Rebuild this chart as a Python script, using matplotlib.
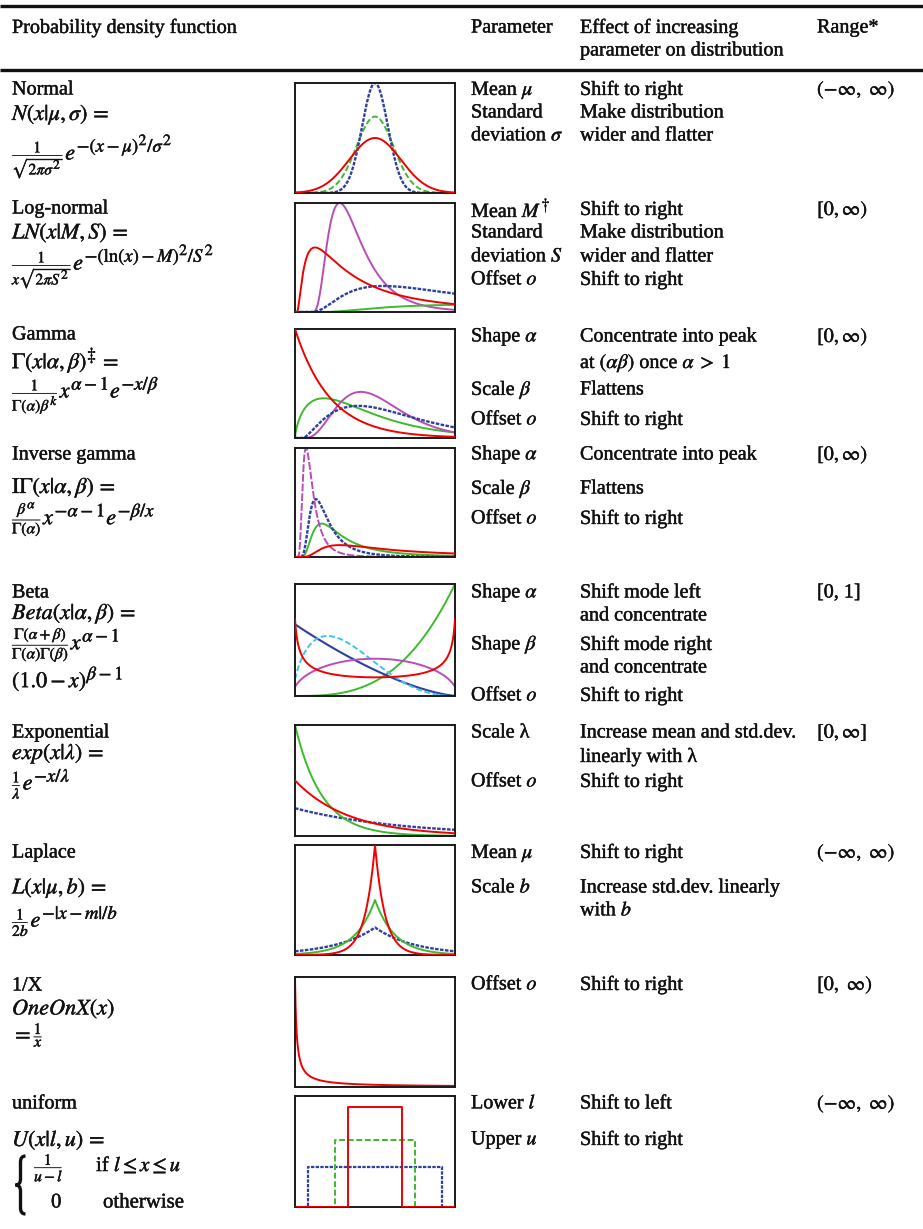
import math
import numpy as np
import matplotlib
matplotlib.use("Agg")
import matplotlib.pyplot as plt
import matplotlib._mathtext as _mt
from matplotlib.path import Path
from matplotlib.patches import PathPatch
import matplotlib.patheffects as pe

_mt.SHRINK_FACTOR = 0.84

plt.rcParams['font.family'] = ['Liberation Serif', 'DejaVu Serif']
plt.rcParams['mathtext.fontset'] = 'stix'

W, H = 923, 1229
FS = 14.5
MFS = 16

RED = '#f00000'
GREEN = '#3dba2e'
BLUE = '#2f3f9f'
MAGENTA = '#b84db8'
CYAN = '#3ec6e6'
DOT = (0, (1.5, 0.6))
DASH = (0, (3.0, 1.4))

# ---------------- data (distribution parameters shown in each panel) -------------
NORMAL_MU = [0.0, 0.0, 0.0]
NORMAL_SIGMA = [1.0, 0.72, 0.5]
NORMAL_COLORS = [RED, GREEN, BLUE]

LOGN_M = [1.24, 0.95, 2.19, 3.4]
LOGN_S = [1.05, 0.56, 0.8, 1.0]
LOGN_OFFSET = [0.1, 0.9, 0.8, 1.5]
LOGN_COLORS = [RED, MAGENTA, BLUE, GREEN]

GAMMA_ALPHA = [1.0, 1.7, 4.2, 2.5]
GAMMA_BETA = [2.2, 2.57, 1.13, 2.3]
GAMMA_OFFSET = [0.0, 0.0, 0.5, 0.5]
GAMMA_COLORS = [RED, GREEN, MAGENTA, BLUE]

INVG_ALPHA = [1.2, 2.5, 4.0, 4.0]
INVG_BETA = [6.16, 5.85, 6.5, 3.45]
INVG_COLORS = [RED, GREEN, BLUE, MAGENTA]

BETA_A = [4.0, 1.0, 1.7, 1.5, 0.5]
BETA_B = [1.0, 2.5, 3.6, 1.5, 0.5]
BETA_COLORS = [GREEN, BLUE, CYAN, MAGENTA, RED]

EXP_LAMBDA = [4.0, 1.0, 2.0]
EXP_COLORS = [BLUE, GREEN, RED]

LAPLACE_MU = [0.0, 0.0, 0.0]
LAPLACE_B = [2.0, 1.0, 0.5]
LAPLACE_COLORS = [BLUE, GREEN, RED]

ONEX_RANGE = [1.0, 100.0]

UNIF_L = [1.0, 3.0, 4.0]
UNIF_U = [11.0, 9.0, 8.0]
UNIF_COLORS = [BLUE, GREEN, RED]

# ---------------- figure ----------------
fig = plt.figure(figsize=(W / 100, H / 100), dpi=100)
bg = fig.add_axes([0, 0, 1, 1])
bg.set_xlim(0, W)
bg.set_ylim(H, 0)
bg.axis('off')

INK = '#111111'
STROKE = [pe.withStroke(linewidth=0.3, foreground=INK)]


def txt(x, y, s, **kw):
    bg.text(x, y, s, fontsize=kw.pop('fontsize', FS), va=kw.pop('va', 'center'),
            ha=kw.pop('ha', 'left'), color=INK, path_effects=STROKE, **kw)


def F(n, d):
    return r'\genfrac{}{}{0.7}{2}{%s}{%s}' % (n, d)


# rules
bg.plot([0, W], [5.5, 5.5], color=INK, lw=2.4, solid_capstyle='butt')
bg.plot([0, W], [69.5, 69.5], color=INK, lw=2.4, solid_capstyle='butt')

# header
txt(12, 28, 'Probability density function')
txt(471, 28, 'Parameter')
txt(580, 28, 'Effect of increasing')
txt(580, 51, 'parameter on distribution')
txt(817, 28, 'Range*')

XP, XE, XR = 471, 580, 817

left_names = [
    (90, 'Normal'), (209, 'Log-normal'), (335, 'Gamma'), (455, 'Inverse gamma'),
    (593, 'Beta'), (733, 'Exponential'), (853, 'Laplace'), (986, '1/X'), (1104, 'uniform'),
]
for y, s in left_names:
    txt(12, y, s)

left_math = [
    (115, r'$N(x|\mu,\sigma)\,=$'),
    (157, '$' + F('1', r'\sqrt{2\pi\sigma^2}') + r'e^{-(x-\mu)^2/\sigma^2}$'),
    (233, r'$LN(x|M,S)\,=$'),
    (267, '$' + F('1', r'x\sqrt{2\pi S^2}') + r'e^{-(\ln(x)-M)^2/S^2}$'),
    (361, r'$\Gamma(x|\alpha,\beta)^{\ddagger}\,=$'),
    (396, '$' + F('1', r'\Gamma(\alpha)\beta^k') + r'x^{\alpha-1}e^{-x/\beta}$'),
    (488, r'$\mathrm{I}\Gamma(x|\alpha,\beta)\,=$'),
    (519, '$' + F(r'\beta^\alpha', r'\Gamma(\alpha)') + r'x^{-\alpha-1}e^{-\beta/x}$'),
    (614, r'$Beta(x|\alpha,\beta)\,=$'),
    (645, '$' + F(r'\Gamma(\alpha+\beta)', r'\Gamma(\alpha)\Gamma(\beta)') + r'x^{\alpha-1}$'),
    (679, r'$(1.0-x)^{\beta-1}$'),
    (754, r'$exp(x|\lambda)\,=$'),
    (784, '$' + F('1', r'\lambda') + r'e^{-x/\lambda}$'),
    (888, r'$L(x|\mu,b)\,=$'),
    (921, '$' + F('1', '2b') + r'e^{-|x-m|/b}$'),
    (1009, r'$OneOnX(x)$'), (1035, '$=' + F('1', 'x') + '$'),
    (1140, r'$U(x|l,u)\,=$'),
]
for y, s in left_math:
    txt(12, y, s, fontsize=MFS)

# piecewise definition of the uniform density
txt(34, 1168, '$' + F('1', 'u-l') + '$', fontsize=MFS)
txt(96, 1166, r'if $l\leq x\leq u$', fontsize=15)
txt(51, 1203, '0', fontsize=15)
txt(103, 1203, 'otherwise', fontsize=15)
bx, y0, y1 = 20.5, 1156, 1214
ym = (y0 + y1) / 2
verts = [(bx + 5, y0), (bx, y0), (bx, y0 + 6), (bx, ym - 6), (bx, ym), (bx - 5, ym),
         (bx, ym), (bx, ym + 6), (bx, y1 - 6), (bx, y1), (bx + 5, y1)]
codes = [Path.MOVETO, Path.CURVE3, Path.CURVE3, Path.LINETO, Path.CURVE3, Path.CURVE3,
         Path.CURVE3, Path.CURVE3, Path.LINETO, Path.CURVE3, Path.CURVE3]
bg.add_patch(PathPatch(Path(verts, codes), fill=False, lw=2.4, edgecolor=INK))

params = [
    (90, r'Mean $\mu$'), (113, 'Standard'), (136, r'deviation $\sigma$'),
    (210, r'Mean $M^{\dagger}$'), (233, 'Standard'), (257, r'deviation $S$'), (280, r'Offset $o$'),
    (337, r'Shape $\alpha$'), (390, r'Scale $\beta$'), (420, r'Offset $o$'),
    (455, r'Shape $\alpha$'), (489, r'Scale $\beta$'), (519, r'Offset $o$'),
    (593, r'Shape $\alpha$'), (645, r'Shape $\beta$'), (696, r'Offset $o$'),
    (733, 'Scale λ'), (782, r'Offset $o$'),
    (853, r'Mean $\mu$'), (888, r'Scale $b$'),
    (985, r'Offset $o$'),
    (1104, r'Lower $l$'), (1140, r'Upper $u$'),
]
for y, s in params:
    txt(XP, y, s)

effects = [
    (90, 'Shift to right'), (113, 'Make distribution'), (136, 'wider and flatter'),
    (210, 'Shift to right'), (233, 'Make distribution'), (257, 'wider and flatter'), (280, 'Shift to right'),
    (337, 'Concentrate into peak'), (363, r'at $(\alpha\beta)$ once $\alpha\;>\;1$'),
    (390, 'Flattens'), (420, 'Shift to right'),
    (455, 'Concentrate into peak'), (489, 'Flattens'), (519, 'Shift to right'),
    (593, 'Shift mode left'), (616, 'and concentrate'), (645, 'Shift mode right'),
    (668, 'and concentrate'), (696, 'Shift to right'),
    (733, 'Increase mean and std.dev.'), (757, 'linearly with λ'), (782, 'Shift to right'),
    (853, 'Shift to right'), (888, 'Increase std.dev. linearly'), (911, r'with $b$'),
    (985, 'Shift to right'),
    (1104, 'Shift to left'), (1140, 'Shift to right'),
]
for y, s in effects:
    txt(XE, y, s)

ranges = [
    (90, r'$(-\infty,\ \infty)$'), (210, r'$[0,\infty)$'), (337, r'$[0,\infty)$'),
    (455, r'$[0,\infty)$'), (593, '[0, 1]'), (733, r'$[0,\infty]$'),
    (853, r'$(-\infty,\ \infty)$'), (985, r'$[0,\ \infty)$'), (1104, r'$(-\infty,\ \infty)$'),
]
for y, s in ranges:
    txt(XR, y, s)

# ---------------- small plots ----------------
BX0, BX1 = 295, 455


def panel(ytop, ybot):
    ax = fig.add_axes([BX0 / W, 1 - ybot / H, (BX1 - BX0) / W, (ybot - ytop) / H])
    ax.set_xticks([])
    ax.set_yticks([])
    for sp in ax.spines.values():
        sp.set_linewidth(1.4)
        sp.set_color('#1a1a1a')
    ax.set_facecolor('white')
    return ax


LW = 1.4


def style(c):
    if c == BLUE:
        return dict(ls=DOT, lw=1.7)
    return dict(ls='-', lw=LW)


# Normal
ax = panel(83, 193)
x = np.linspace(-3.1, 3.1, 600)
tops = []
for mu, s, c in zip(NORMAL_MU, NORMAL_SIGMA, NORMAL_COLORS):
    y = np.exp(-0.5 * ((x - mu) / s) ** 2) / (s * math.sqrt(2 * math.pi))
    tops.append(y.max())
    st = style(c)
    if c == GREEN:
        st = dict(ls=DASH, lw=LW)
    ax.plot(x, y, color=c, zorder=3 if c == RED else 2, **st)
ax.set_xlim(x[0], x[-1])
ax.set_ylim(0, max(tops))

# Log-normal
ax = panel(203, 312)
x = np.linspace(0, 10, 800)
curves = []
for M, S, o, c in zip(LOGN_M, LOGN_S, LOGN_OFFSET, LOGN_COLORS):
    z = np.clip(x - o, 1e-9, None)
    y = np.where(x > o, np.exp(-(np.log(z) - M) ** 2 / (2 * S ** 2)) / (z * S * math.sqrt(2 * math.pi)), 0)
    curves.append((y, c))
for y, c in curves:
    ax.plot(x, y, color=c, zorder=3 if c == RED else 2, **style(c))
ax.set_xlim(0, 10)
ax.set_ylim(0, max(y.max() for y, _ in curves))

# Gamma
ax = panel(329, 438)
x = np.linspace(0, 10, 800)
curves = []
for a, b, o, c in zip(GAMMA_ALPHA, GAMMA_BETA, GAMMA_OFFSET, GAMMA_COLORS):
    z = np.clip(x - o, 0, None)
    y = np.where(x >= o, z ** (a - 1) * np.exp(-z / b) / (math.gamma(a) * b ** a), 0)
    curves.append((y, c))
for y, c in curves:
    ax.plot(x, y, color=c, zorder=3 if c == RED else 2, **style(c))
ax.set_xlim(0, 10)
ax.set_ylim(0, max(y.max() for y, _ in curves))

# Inverse gamma
ax = panel(448, 557)
x = np.linspace(0.05, 10, 1200)
curves = []
for a, b, c in zip(INVG_ALPHA, INVG_BETA, INVG_COLORS):
    y = b ** a / math.gamma(a) * x ** (-a - 1) * np.exp(-b / x)
    curves.append((y, c))
for y, c in curves:
    st = style(c)
    if c == MAGENTA:
        st = dict(ls=(0, (4, 1)), lw=LW)
    ax.plot(x, y, color=c, zorder=3 if c == RED else 2, **st)
ax.set_xlim(0, 10)
ax.set_ylim(0, max(y.max() for y, _ in curves))

# Beta
ax = panel(584, 696)
x = np.linspace(0.015, 0.985, 600)
curves = []
for a, b, c in zip(BETA_A, BETA_B, BETA_COLORS):
    B = math.gamma(a) * math.gamma(b) / math.gamma(a + b)
    y = x ** (a - 1) * (1 - x) ** (b - 1) / B
    curves.append((y, c))
for y, c in curves:
    st = dict(ls='-', lw=LW)
    if c == CYAN:
        st = dict(ls=DASH, lw=LW)
    if c == BLUE:
        st = dict(ls='-', lw=1.5)
    ax.plot(x, y, color=c, zorder=3 if c == RED else 2, **st)
ax.set_xlim(x[0], x[-1])
ax.set_ylim(0, max(y.max() for y, c in curves if c != RED))

# Exponential
ax = panel(725, 836)
x = np.linspace(0, 6, 600)
for lam, c in zip(EXP_LAMBDA, EXP_COLORS):
    y = np.exp(-x / lam) / lam
    ax.plot(x, y, color=c, zorder=3 if c == RED else 2, **style(c))
ax.set_xlim(0, 6)
ax.set_ylim(0, 1.0 / min(EXP_LAMBDA))

# Laplace
ax = panel(845, 955)
x = np.linspace(-4, 4, 801)
tops = []
for mu, b, c in zip(LAPLACE_MU, LAPLACE_B, LAPLACE_COLORS):
    y = np.exp(-np.abs(x - mu) / b) / (2 * b)
    tops.append(y.max())
    ax.plot(x, y, color=c, zorder=3 if c == RED else 2, **style(c))
ax.set_xlim(-4, 4)
ax.set_ylim(0, max(tops))

# 1/X
ax = panel(977, 1087)
x = np.linspace(ONEX_RANGE[0], ONEX_RANGE[1], 2000)
y = 1.0 / x
ax.plot(np.r_[x[0], x], np.r_[y[0] * 1.05, y], color=RED, lw=LW)
ax.set_xlim(ONEX_RANGE[0], ONEX_RANGE[1])
ax.set_ylim(0, y.max())

# Uniform
ax = panel(1096, 1207)
heights = []
for l, u, c in zip(UNIF_L, UNIF_U, UNIF_COLORS):
    h = 1.0 / (u - l)
    heights.append(h)
    xs = [0, l, l, u, u, 12]
    ys = [0, 0, h, h, 0, 0]
    st = dict(ls='-', lw=LW)
    if c == GREEN:
        st = dict(ls=DASH, lw=LW)
    if c == BLUE:
        st = dict(ls=DOT, lw=1.6)
    ax.plot(xs, ys, color=c, zorder=3 if c == RED else 2, **st)
ax.set_xlim(0, 12)
ax.set_ylim(0, max(heights) / 0.9)

fig.savefig('out.png', dpi=100)
